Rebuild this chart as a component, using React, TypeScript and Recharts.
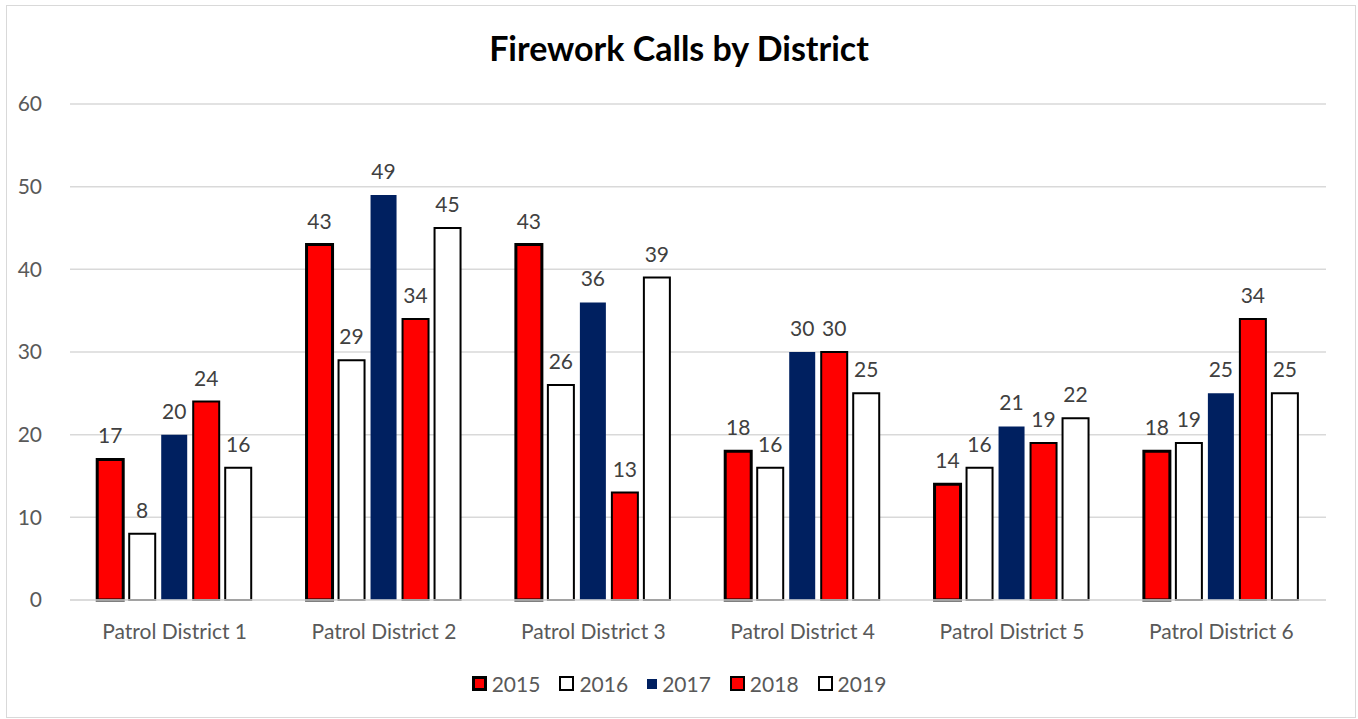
import React from 'react'
import { BarChart, Bar, XAxis, YAxis, CartesianGrid, Legend, LabelList } from 'recharts'

const districts = ['Patrol District 1', 'Patrol District 2', 'Patrol District 3', 'Patrol District 4', 'Patrol District 5', 'Patrol District 6']
const calls2015 = [17, 43, 43, 18, 14, 18]
const calls2016 = [8, 29, 26, 16, 16, 19]
const calls2017 = [20, 49, 36, 30, 21, 25]
const calls2018 = [24, 34, 13, 30, 19, 34]
const calls2019 = [16, 45, 39, 25, 22, 25]
const yTicks = [0, 10, 20, 30, 40, 50, 60]

const data = districts.map((name, i) => ({
  name,
  y2015: calls2015[i],
  y2016: calls2016[i],
  y2017: calls2017[i],
  y2018: calls2018[i],
  y2019: calls2019[i],
}))

const FONT = 'Lato, "Open Sans", sans-serif'

const series = [
  { key: 'y2015', label: '2015', fill: '#ff0000', stroke: '#000', width: 3 },
  { key: 'y2016', label: '2016', fill: '#ffffff', stroke: '#000', width: 2 },
  { key: 'y2017', label: '2017', fill: '#002060', stroke: 'none', width: 0 },
  { key: 'y2018', label: '2018', fill: '#ff0000', stroke: '#000', width: 2 },
  { key: 'y2019', label: '2019', fill: '#ffffff', stroke: '#000', width: 2 },
]

function LegendContent() {
  return (
    <div style={{ display: 'flex', justifyContent: 'center', gap: 19, fontFamily: FONT, fontSize: 21, color: '#595959' }}>
      {series.map((s) => (
        <div key={s.key} style={{ display: 'flex', alignItems: 'center', gap: 5 }}>
          <span
            style={{
              display: 'inline-block',
              boxSizing: 'border-box',
              width: s.width ? 15 : 10,
              height: s.width ? 15 : 10,
              background: s.fill,
              border: s.width ? `${s.width}px solid #000` : 'none',
            }}
          />
          <span>{s.label}</span>
        </div>
      ))}
    </div>
  )
}

export default function App() {
  return (
    <div style={{ position: 'absolute', left: 0, top: 0, width: 1358, height: 719, background: '#fff' }}>
      <div style={{ position: 'absolute', left: 6, top: 5, width: 1348, height: 711, border: '1px solid #d9d9d9' }} />
      <div
        style={{
          position: 'absolute',
          left: 0,
          top: 27,
          width: 1358,
          textAlign: 'center',
          fontFamily: FONT,
          fontWeight: 'bold',
          fontSize: 34,
          color: '#000',
        }}
      >
        Firework Calls by District
      </div>
      <BarChart
        width={1358}
        height={719}
        data={data}
        margin={{ top: 104, right: 32, left: 0, bottom: 75 }}
        barCategoryGap="13%"
        barGap={6}
        style={{ position: 'absolute', left: 0, top: 0 }}
      >
        <CartesianGrid vertical={false} stroke="#d9d9d9" strokeWidth={1.5} />
        <XAxis
          dataKey="name"
          axisLine={{ stroke: '#d9d9d9', strokeWidth: 1.5 }}
          tickLine={false}
          tickMargin={18}
          height={44}
          tick={{ fontSize: 21, fill: '#595959', fontFamily: FONT }}
        />
        <YAxis
          width={70}
          domain={[0, 60]}
          ticks={yTicks}
          axisLine={false}
          tickLine={false}
          tickMargin={22}
          tick={{ fontSize: 21, fill: '#595959', fontFamily: FONT }}
        />
        <Legend
          layout="horizontal"
          verticalAlign="middle"
          align="center"
          content={<LegendContent />}
          wrapperStyle={{ top: 671, left: 0, width: 1358 }}
        />
        {series.map((s) => (
          <Bar
            key={s.key}
            dataKey={s.key}
            name={s.label}
            fill={s.fill}
            stroke={s.stroke}
            strokeWidth={s.width}
            isAnimationActive={false}
          >
            <LabelList
              dataKey={s.key}
              position="top"
              offset={16}
              style={{ fontSize: 21, fill: '#404040', fontFamily: FONT }}
            />
          </Bar>
        ))}
      </BarChart>
    </div>
  )
}
